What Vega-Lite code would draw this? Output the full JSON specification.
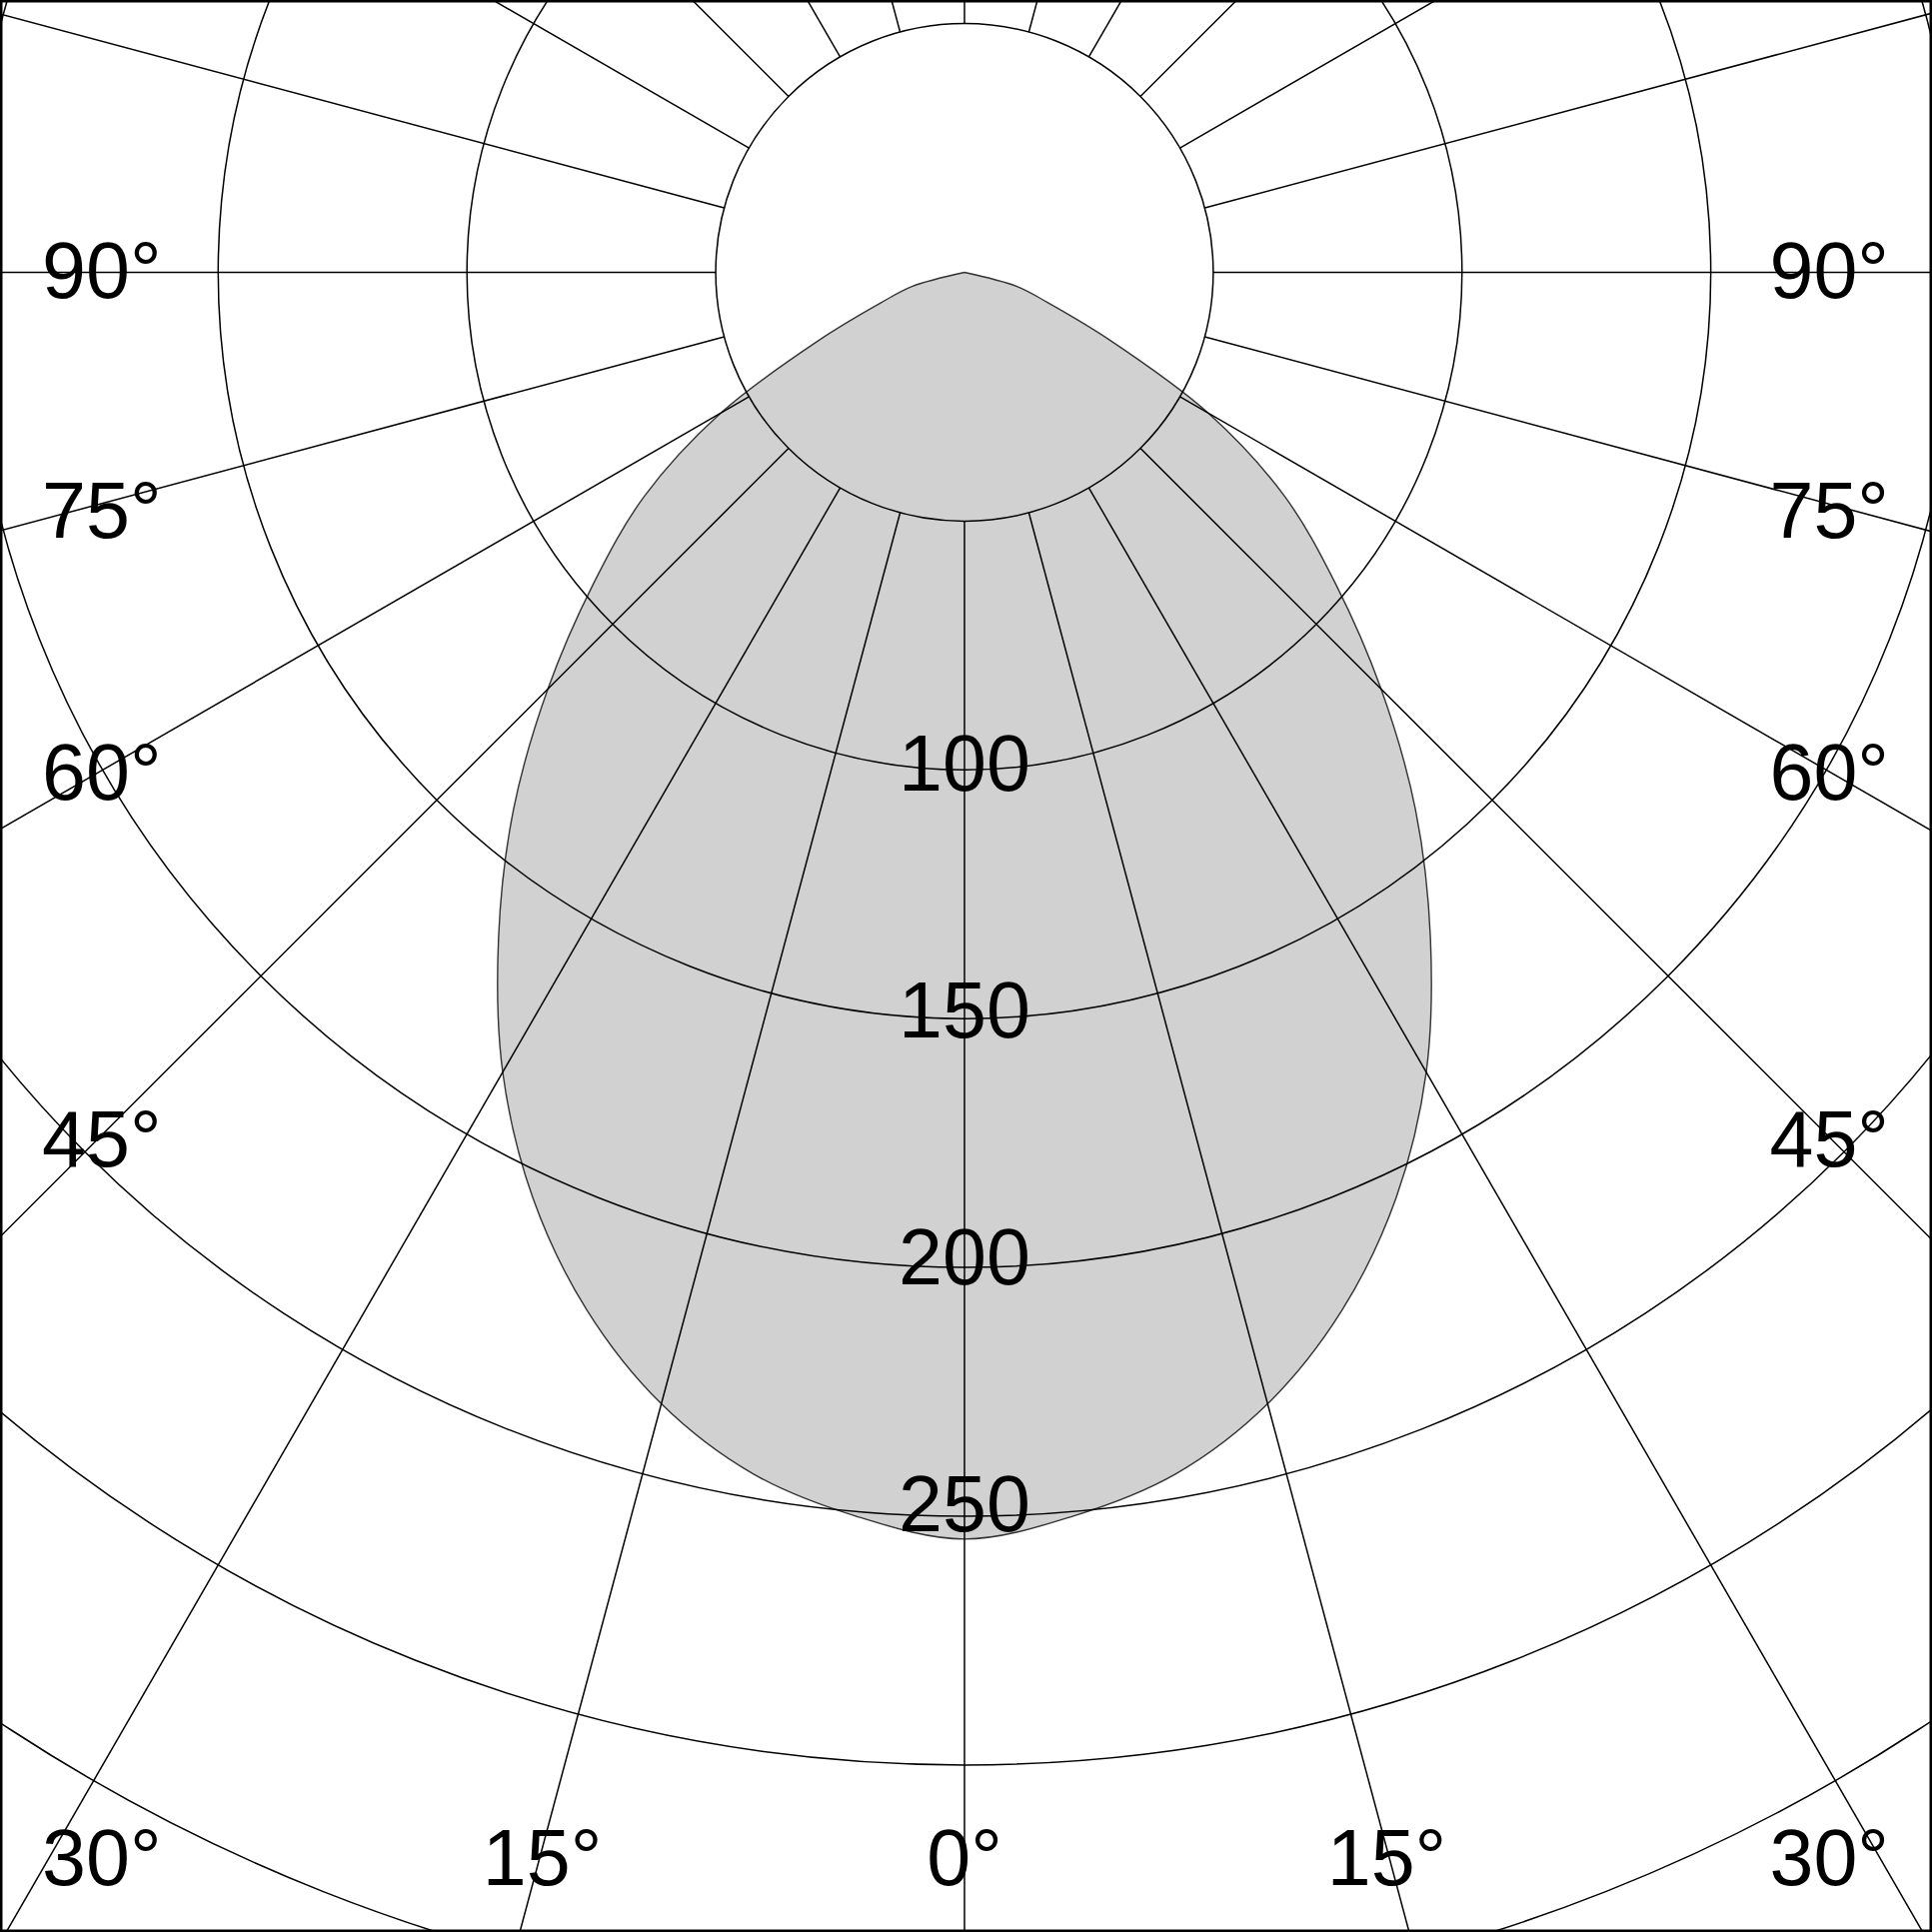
{
  "$schema": "https://vega.github.io/schema/vega-lite/v6.json",
  "width": 1933,
  "height": 1933,
  "padding": 0,
  "autosize": {"type": "fit", "contains": "padding"},
  "background": "white",
  "view": {"stroke": "black", "strokeWidth": 5, "fill": "white"},
  "datasets": {
    "shape": [
      {"i": 0, "angle": -80, "cd": 0, "x": 0, "y": 0},
      {"i": 1, "angle": -75, "cd": 10.9, "x": -10.55, "y": -2.83},
      {"i": 2, "angle": -70, "cd": 17.9, "x": -16.78, "y": -6.11},
      {"i": 3, "angle": -65, "cd": 32.3, "x": -29.24, "y": -13.64},
      {"i": 4, "angle": -60, "cd": 56.6, "x": -48.99, "y": -28.29},
      {"i": 5, "angle": -55, "cd": 78.6, "x": -64.4, "y": -45.09},
      {"i": 6, "angle": -50, "cd": 97.4, "x": -74.59, "y": -62.59},
      {"i": 7, "angle": -45, "cd": 118.4, "x": -83.73, "y": -83.73},
      {"i": 8, "angle": -40, "cd": 141.0, "x": -90.66, "y": -108.04},
      {"i": 9, "angle": -35, "cd": 163.3, "x": -93.65, "y": -133.75},
      {"i": 10, "angle": -30, "cd": 185.6, "x": -92.81, "y": -160.75},
      {"i": 11, "angle": -25, "cd": 205.3, "x": -86.75, "y": -186.03},
      {"i": 12, "angle": -20, "cd": 221.9, "x": -75.91, "y": -208.55},
      {"i": 13, "angle": -15, "cd": 235.4, "x": -60.93, "y": -227.42},
      {"i": 14, "angle": -10, "cd": 245.2, "x": -42.57, "y": -241.44},
      {"i": 15, "angle": -5, "cd": 250.9, "x": -21.87, "y": -249.97},
      {"i": 16, "angle": 0, "cd": 254.6, "x": 0, "y": -254.59},
      {"i": 17, "angle": 5, "cd": 250.9, "x": 21.87, "y": -249.97},
      {"i": 18, "angle": 10, "cd": 245.2, "x": 42.57, "y": -241.44},
      {"i": 19, "angle": 15, "cd": 235.4, "x": 60.93, "y": -227.42},
      {"i": 20, "angle": 20, "cd": 221.9, "x": 75.91, "y": -208.55},
      {"i": 21, "angle": 25, "cd": 205.3, "x": 86.75, "y": -186.03},
      {"i": 22, "angle": 30, "cd": 185.6, "x": 92.81, "y": -160.75},
      {"i": 23, "angle": 35, "cd": 163.3, "x": 93.65, "y": -133.75},
      {"i": 24, "angle": 40, "cd": 141.0, "x": 90.66, "y": -108.04},
      {"i": 25, "angle": 45, "cd": 118.4, "x": 83.73, "y": -83.73},
      {"i": 26, "angle": 50, "cd": 97.4, "x": 74.59, "y": -62.59},
      {"i": 27, "angle": 55, "cd": 78.6, "x": 64.4, "y": -45.09},
      {"i": 28, "angle": 60, "cd": 56.6, "x": 48.99, "y": -28.29},
      {"i": 29, "angle": 65, "cd": 32.3, "x": 29.24, "y": -13.64},
      {"i": 30, "angle": 70, "cd": 17.9, "x": 16.78, "y": -6.11},
      {"i": 31, "angle": 75, "cd": 10.9, "x": 10.55, "y": -2.83},
      {"i": 32, "angle": 80, "cd": 0, "x": 0, "y": 0}
    ],
    "circles": [
      {"cx": 0, "cy": 0, "r": 50},
      {"cx": 0, "cy": 0, "r": 100},
      {"cx": 0, "cy": 0, "r": 150},
      {"cx": 0, "cy": 0, "r": 200},
      {"cx": 0, "cy": 0, "r": 250},
      {"cx": 0, "cy": 0, "r": 300},
      {"cx": 0, "cy": 0, "r": 350}
    ],
    "spokes": [
      {"angle": 0, "x": 0, "y": -50, "x2": 0, "y2": -420},
      {"angle": 15, "x": 12.94, "y": -48.3, "x2": 108.7, "y2": -405.69},
      {"angle": 30, "x": 25, "y": -43.3, "x2": 210, "y2": -363.73},
      {"angle": 45, "x": 35.36, "y": -35.36, "x2": 296.98, "y2": -296.98},
      {"angle": 60, "x": 43.3, "y": -25, "x2": 363.73, "y2": -210},
      {"angle": 75, "x": 48.3, "y": -12.94, "x2": 405.69, "y2": -108.7},
      {"angle": 90, "x": 50, "y": 0, "x2": 420, "y2": 0},
      {"angle": 105, "x": 48.3, "y": 12.94, "x2": 405.69, "y2": 108.7},
      {"angle": 120, "x": 43.3, "y": 25, "x2": 363.73, "y2": 210},
      {"angle": 135, "x": 35.36, "y": 35.36, "x2": 296.98, "y2": 296.98},
      {"angle": 150, "x": 25, "y": 43.3, "x2": 210, "y2": 363.73},
      {"angle": 165, "x": 12.94, "y": 48.3, "x2": 108.7, "y2": 405.69},
      {"angle": 180, "x": 0, "y": 50, "x2": 0, "y2": 420},
      {"angle": -15, "x": -12.94, "y": -48.3, "x2": -108.7, "y2": -405.69},
      {"angle": -30, "x": -25, "y": -43.3, "x2": -210, "y2": -363.73},
      {"angle": -45, "x": -35.36, "y": -35.36, "x2": -296.98, "y2": -296.98},
      {"angle": -60, "x": -43.3, "y": -25, "x2": -363.73, "y2": -210},
      {"angle": -75, "x": -48.3, "y": -12.94, "x2": -405.69, "y2": -108.7},
      {"angle": -90, "x": -50, "y": 0, "x2": -420, "y2": 0},
      {"angle": -105, "x": -48.3, "y": 12.94, "x2": -405.69, "y2": 108.7},
      {"angle": -120, "x": -43.3, "y": 25, "x2": -363.73, "y2": 210},
      {"angle": -135, "x": -35.36, "y": 35.36, "x2": -296.98, "y2": 296.98},
      {"angle": -150, "x": -25, "y": 43.3, "x2": -210, "y2": 363.73},
      {"angle": -165, "x": -12.94, "y": 48.3, "x2": -108.7, "y2": 405.69}
    ],
    "labels": [
      {"text": "90°", "side": "left", "x": -185.41, "y": -0.4},
      {"text": "75°", "side": "left", "x": -185.41, "y": -48.6},
      {"text": "60°", "side": "left", "x": -185.41, "y": -101.24},
      {"text": "45°", "side": "left", "x": -185.41, "y": -174.79},
      {"text": "30°", "side": "left", "x": -185.41, "y": -319.31},
      {"text": "90°", "side": "right", "x": 185.81, "y": -0.4},
      {"text": "75°", "side": "right", "x": 185.81, "y": -48.6},
      {"text": "60°", "side": "right", "x": 185.81, "y": -101.24},
      {"text": "45°", "side": "right", "x": 185.81, "y": -174.79},
      {"text": "30°", "side": "right", "x": 185.81, "y": -319.31},
      {"text": "15°", "side": "center", "x": -84.87, "y": -319.31},
      {"text": "0°", "side": "center", "x": 0, "y": -319.31},
      {"text": "15°", "side": "center", "x": 84.87, "y": -319.31},
      {"text": "100", "side": "center", "x": 0, "y": -99.26},
      {"text": "150", "side": "center", "x": 0, "y": -148.9},
      {"text": "200", "side": "center", "x": 0, "y": -198.5},
      {"text": "250", "side": "center", "x": 0, "y": -248.1}
    ]
  },
  "encoding": {
    "x": {"type": "quantitative", "scale": {"domain": [-193.85, 194.46], "nice": false, "zero": false}, "axis": null},
    "y": {"type": "quantitative", "scale": {"domain": [-333.57, 54.74], "nice": false, "zero": false}, "axis": null}
  },
  "layer": [
    {
      "data": {"name": "shape"},
      "mark": {"type": "line", "interpolate": "catmull-rom", "fill": "#d1d1d1", "stroke": "#333333", "strokeWidth": 1.4, "clip": true},
      "encoding": {
        "x": {"field": "x", "type": "quantitative"},
        "y": {"field": "y", "type": "quantitative"},
        "order": {"field": "i", "type": "quantitative"}
      }
    },
    {
      "data": {"name": "circles"},
      "mark": {"type": "arc", "filled": false, "fill": null, "stroke": "black", "strokeWidth": 1.5, "theta": 0, "theta2": 6.2832, "clip": true},
      "encoding": {
        "x": {"field": "cx", "type": "quantitative"},
        "y": {"field": "cy", "type": "quantitative"},
        "radius": {"field": "r", "type": "quantitative", "stack": null, "scale": {"type": "linear", "domain": [0, 388.31], "range": [0, 1933], "zero": true, "nice": false}}
      }
    },
    {
      "data": {"name": "spokes"},
      "mark": {"type": "rule", "color": "black", "strokeWidth": 1.5, "clip": true},
      "encoding": {
        "x": {"field": "x", "type": "quantitative"},
        "y": {"field": "y", "type": "quantitative"},
        "x2": {"field": "x2"},
        "y2": {"field": "y2"}
      }
    },
    {
      "data": {"name": "labels"},
      "transform": [{"filter": "datum.side === 'left'"}],
      "mark": {"type": "text", "align": "left", "baseline": "middle", "font": "Liberation Sans", "fontSize": 79, "color": "black"},
      "encoding": {
        "x": {"field": "x", "type": "quantitative"},
        "y": {"field": "y", "type": "quantitative"},
        "text": {"field": "text"}
      }
    },
    {
      "data": {"name": "labels"},
      "transform": [{"filter": "datum.side === 'right'"}],
      "mark": {"type": "text", "align": "right", "baseline": "middle", "font": "Liberation Sans", "fontSize": 79, "color": "black"},
      "encoding": {
        "x": {"field": "x", "type": "quantitative"},
        "y": {"field": "y", "type": "quantitative"},
        "text": {"field": "text"}
      }
    },
    {
      "data": {"name": "labels"},
      "transform": [{"filter": "datum.side === 'center'"}],
      "mark": {"type": "text", "align": "center", "baseline": "middle", "font": "Liberation Sans", "fontSize": 79, "color": "black"},
      "encoding": {
        "x": {"field": "x", "type": "quantitative"},
        "y": {"field": "y", "type": "quantitative"},
        "text": {"field": "text"}
      }
    }
  ]
}
